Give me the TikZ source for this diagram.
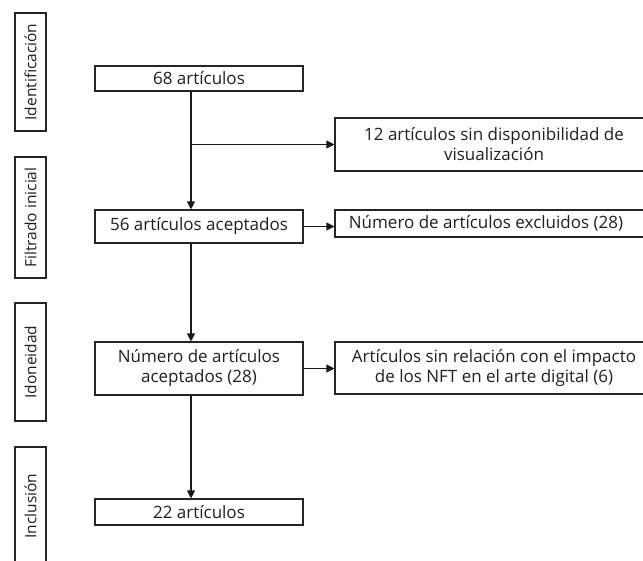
\documentclass[tikz,border=0pt]{standalone}
\usepackage{fontspec}
\setmainfont{Open Sans}
\usetikzlibrary{arrows.meta,calc}
\begin{document}
\begin{tikzpicture}[x=1pt,y=-1pt,
  box/.style={draw=black!85,line width=1.1pt,minimum height=#1,inner sep=0pt,align=center,
    font=\fontsize{17}{20}\selectfont,text=black!88},
  box/.default=25pt,
  side/.style={draw=black!85,line width=1.1pt,minimum width=31pt,inner sep=0pt,
    font=\fontsize{15.5}{18}\selectfont,text=black!88},
  conn/.style={draw=black!90,line width=1.1pt},
  arr/.style={conn,-{Triangle[length=8pt,width=8pt]}}]
\useasboundingbox (0,0) rectangle (643,560);
\clip (0,0) rectangle (643,560);
% side labels
\node[side,minimum height=118pt] (s1) at (30.5,72) {\rotatebox{90}{Identificación}};
\node[side,minimum height=121pt] (s2) at (30.5,217.5) {\rotatebox{90}{Filtrado inicial}};
\node[side,minimum height=118pt] (s3) at (30.5,362) {\rotatebox{90}{Idoneidad}};
\node[side,minimum height=118pt] (s4) at (30.5,506) {\rotatebox{90}{Inclusión}};
% main column
\node[box=25pt,minimum width=208pt] (a) at (199,78.5) {68 artículos};
\node[box=33pt,minimum width=208pt] (b) at (199,226.5) {56 artículos aceptados};
\node[box=53pt,minimum width=208pt] (c) at (199,368.5) {Número de artículos\\aceptados (28)};
\node[box=26pt,minimum width=208pt] (d) at (199,512) {22 artículos};
% right column
\node[box=53pt,minimum width=318pt] (r1) at (494,144.5) {12 artículos sin disponibilidad de\\visualización};
\node[box=27pt,minimum width=318pt] (r2) at (494,223.5) {\hspace*{-16pt}Número de artículos excluidos (28)};
\node[box=52pt,minimum width=318pt] (r3) at (494,368) {Artículos sin relación con el impacto\\de los NFT en el arte digital (6)};
\coordinate (sp) at (191,0);
% connectors
\draw[arr] (a.south -| sp) -- (b.north -| sp);
\draw[arr] (sp |- r1.west) -- (r1.west);
\draw[arr] (b.east) -- (b.east -| r2.west);
\draw[arr] (b.south -| sp) -- (c.north -| sp);
\draw[arr] (c.east) -- (c.east -| r3.west);
\draw[arr] (c.south -| sp) -- (d.north -| sp);
\end{tikzpicture}
\end{document}
